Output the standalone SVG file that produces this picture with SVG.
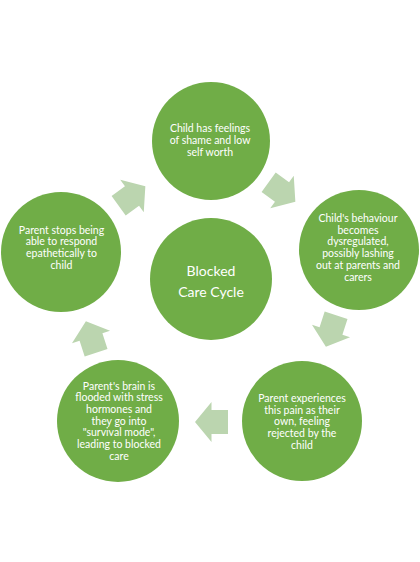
<svg xmlns="http://www.w3.org/2000/svg" width="420" height="562" viewBox="0 0 420 562">
<defs>
<style>
.c{fill:#70AD47}
.a{fill:#BBD5AF}
.t{fill:#FFFFFF;font-family:Lato,"Liberation Sans",sans-serif;font-size:10.5px;text-anchor:middle}
.tc{fill:#FFFFFF;font-family:Lato,"Liberation Sans",sans-serif;font-size:14px;text-anchor:middle}
</style>
<path id="arr" d="M-16.5,-12 L0,-12 L0,-20 L16.5,0 L0,20 L0,12 L-16.5,12 Z"/>
</defs>
<rect width="420" height="562" fill="#FFFFFF"/>
<g id="connectors">
<use href="#arr" class="a" transform="translate(132,196) rotate(-36)"/>
<use href="#arr" class="a" transform="translate(282,192) rotate(36)"/>
<use href="#arr" class="a" transform="translate(331,331) rotate(108)"/>
<use href="#arr" class="a" transform="translate(211.5,422) rotate(180)"/>
<use href="#arr" class="a" transform="translate(91,337) rotate(252)"/>
</g>
<g id="node-center">
<circle class="c" cx="211" cy="279" r="61"/>
<text class="tc" x="211" y="276">Blocked</text>
<text class="tc" x="211" y="296.5">Care Cycle</text>
</g>
<g id="node-top">
<circle class="c" cx="211" cy="141" r="59"/>
<text class="t" x="210" y="131.5">Child has feelings</text>
<text class="t" x="210" y="143.5">of shame and low</text>
<text class="t" x="210" y="155.5">self worth</text>
</g>
<g id="node-right">
<circle class="c" cx="359" cy="250" r="60"/>
<text class="t" x="358" y="222">Child's behaviour</text>
<text class="t" x="358" y="233.7">becomes</text>
<text class="t" x="358" y="245.4">dysregulated,</text>
<text class="t" x="358" y="257.1">possibly lashing</text>
<text class="t" x="358" y="268.8">out at parents and</text>
<text class="t" x="358" y="280.5">carers</text>
</g>
<g id="node-bottom-right">
<circle class="c" cx="302" cy="421" r="60"/>
<text class="t" x="302" y="402">Parent experiences</text>
<text class="t" x="302" y="413.7">this pain as their</text>
<text class="t" x="302" y="425.4">own, feeling</text>
<text class="t" x="302" y="437.1">rejected by the</text>
<text class="t" x="302" y="448.8">child</text>
</g>
<g id="node-bottom-left">
<circle class="c" cx="118" cy="421" r="61"/>
<text class="t" x="119" y="389.5">Parent's brain is</text>
<text class="t" x="119" y="401.2">flooded with stress</text>
<text class="t" x="119" y="412.9">hormones and</text>
<text class="t" x="119" y="424.6">they go into</text>
<text class="t" x="119" y="436.3">"survival mode",</text>
<text class="t" x="119" y="448">leading to blocked</text>
<text class="t" x="119" y="459.7">care</text>
</g>
<g id="node-left">
<circle class="c" cx="61" cy="252" r="60"/>
<text class="t" x="61.5" y="233.5">Parent stops being</text>
<text class="t" x="61.5" y="245.2">able to respond</text>
<text class="t" x="61.5" y="256.9">epathetically to</text>
<text class="t" x="61.5" y="268.6">child</text>
</g>
</svg>
